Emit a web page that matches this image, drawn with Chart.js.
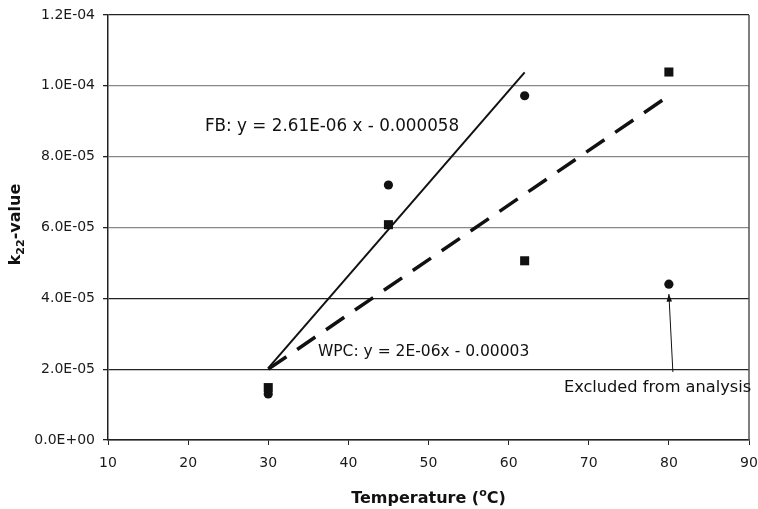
<!DOCTYPE html>
<html>
<head>
<meta charset="utf-8">
<script src="https://cdn.jsdelivr.net/npm/chart.js@4.4.0/dist/chart.umd.min.js"></script>
<style>
  html, body { margin: 0; padding: 0; background: #fff; }
</style>
</head>
<body>
<canvas id="myChart" width="758" height="509"></canvas>
<script>
const temperatures = [30, 45, 62, 80];
const fbValues = [1.3e-5, 7.2e-5, 9.72e-5, 4.4e-5];
const wpcValues = [1.48e-5, 6.08e-5, 5.06e-5, 1.039e-4];

// trend lines (end points)
const fbTrendX = [30, 62];
const fbTrendY = [2.03e-5, 1.038e-4];
const wpcTrendX = [30, 80];
const wpcTrendY = [2.0e-5, 9.72e-5];

const xTicks = [10, 20, 30, 40, 50, 60, 70, 80, 90];
const yTicks = [0, 2e-5, 4e-5, 6e-5, 8e-5, 1e-4, 1.2e-4];

// text notes, anchored in data units
const noteTexts = ['FB: y = 2.61E-06 x - 0.000058', 'WPC: y = 2E-06x - 0.00003', 'Excluded from analysis'];
const noteSizes = [16.8, 15.5, 16.2];
const noteX = [22.1, 36.2, 66.9];
const noteY = [8.84e-5, 2.48e-5, 1.47e-5];
const arrowFrom = [80.5, 1.92e-5];
const arrowTo = [80.0, 4.12e-5];

const FONT = '"DejaVu Sans", sans-serif';

const toPoints = (xs, ys) => xs.map((v, i) => ({ x: v, y: ys[i] }));

const fmtSci = v => {
    const parts = v.toExponential(1).split('e');
    const n = parseInt(parts[1], 10);
    return parts[0] + 'E' + (n < 0 ? '-' : '+') + String(Math.abs(n)).padStart(2, '0');
};

const textPlugin = {
    id: 'texts',
    afterDraw(chart) {
        const ctx = chart.ctx;
        const { x, y } = chart.scales;
        const area = chart.chartArea;
        ctx.save();

        // right frame edge
        ctx.strokeStyle = '#555';
        ctx.lineWidth = 1.5;
        ctx.beginPath();
        ctx.moveTo(area.right, area.top);
        ctx.lineTo(area.right, area.bottom);
        ctx.stroke();

        ctx.fillStyle = '#111';
        ctx.textAlign = 'left';
        ctx.textBaseline = 'middle';
        for (let i = 0; i < noteTexts.length; i++) {
            ctx.font = noteSizes[i] + 'px ' + FONT;
            ctx.fillText(noteTexts[i], x.getPixelForValue(noteX[i]), y.getPixelForValue(noteY[i]));
        }

        // arrow
        const x0 = x.getPixelForValue(arrowFrom[0]), y0 = y.getPixelForValue(arrowFrom[1]);
        const x1 = x.getPixelForValue(arrowTo[0]), y1 = y.getPixelForValue(arrowTo[1]);
        const ang = Math.atan2(y1 - y0, x1 - x0);
        ctx.strokeStyle = '#111';
        ctx.lineWidth = 1;
        ctx.beginPath();
        ctx.moveTo(x0, y0);
        ctx.lineTo(x1, y1);
        ctx.stroke();
        ctx.beginPath();
        ctx.moveTo(x1, y1);
        ctx.lineTo(x1 - 8 * Math.cos(ang - 0.35), y1 - 8 * Math.sin(ang - 0.35));
        ctx.lineTo(x1 - 8 * Math.cos(ang + 0.35), y1 - 8 * Math.sin(ang + 0.35));
        ctx.closePath();
        ctx.fill();

        // x axis title with superscript
        ctx.fillStyle = '#111';
        ctx.textBaseline = 'alphabetic';
        const bold = 'bold 16px ' + FONT;
        const boldSup = 'bold 11px ' + FONT;
        const a = 'Temperature (', s = 'o', b = 'C)';
        ctx.font = bold;
        const wa = ctx.measureText(a).width, wb = ctx.measureText(b).width;
        ctx.font = boldSup;
        const ws = ctx.measureText(s).width;
        let tx = (area.left + area.right) / 2 - (wa + ws + wb) / 2;
        const ty = 503;
        ctx.font = bold;
        ctx.fillText(a, tx, ty);
        ctx.font = boldSup;
        ctx.fillText(s, tx + wa, ty - 7);
        ctx.font = bold;
        ctx.fillText(b, tx + wa + ws, ty);

        // y axis title with subscript
        ctx.translate(20, (area.top + area.bottom) / 2 - 3);
        ctx.rotate(-Math.PI / 2);
        const k = 'k', sub = '22', rest = '-value';
        ctx.font = bold;
        const wk = ctx.measureText(k).width, wr = ctx.measureText(rest).width;
        ctx.font = boldSup;
        const wsub = ctx.measureText(sub).width;
        let sx = -(wk + wsub + wr) / 2;
        ctx.font = bold;
        ctx.fillText(k, sx, 0);
        ctx.font = boldSup;
        ctx.fillText(sub, sx + wk, 4);
        ctx.font = bold;
        ctx.fillText(rest, sx + wk + wsub, 0);
        ctx.restore();
    }
};

const ctx = document.getElementById('myChart').getContext('2d');
const myChart = new Chart(ctx, {
    type: 'scatter',
    data: {
        datasets: [{
            label: 'WPC',
            data: toPoints(temperatures, wpcValues),
            pointStyle: 'rect',
            pointRadius: 6.4,
            backgroundColor: '#111',
            borderColor: '#111',
            borderWidth: 0
        }, {
            label: 'FB',
            data: toPoints(temperatures, fbValues),
            pointStyle: 'circle',
            pointRadius: 4.6,
            backgroundColor: '#111',
            borderColor: '#111',
            borderWidth: 0
        }, {
            label: 'FB trend',
            data: toPoints(fbTrendX, fbTrendY),
            showLine: true,
            pointRadius: 0,
            borderColor: '#111',
            borderWidth: 2
        }, {
            label: 'WPC trend',
            data: toPoints(wpcTrendX, wpcTrendY),
            showLine: true,
            pointRadius: 0,
            borderColor: '#111',
            borderWidth: 3.5,
            borderDash: [22, 13]
        }]
    },
    options: {
        responsive: false,
        animation: false,
        layout: { padding: { top: 15, right: 9, left: 0, bottom: 0 } },
        plugins: {
            legend: { display: false },
            tooltip: { enabled: false }
        },
        scales: {
            x: {
                type: 'linear',
                min: 10,
                max: 90,
                afterBuildTicks: scale => { scale.ticks = xTicks.map(v => ({ value: v })); },
                afterFit: scale => {
                    scale.height = 69;
                    scale.paddingLeft = 0;
                    scale.paddingRight = 0;
                },
                grid: { drawOnChartArea: false, drawTicks: true, tickLength: 5, color: '#222', lineWidth: 1 },
                border: { color: '#222', width: 1.5 },
                ticks: { color: '#1a1a1a', font: { family: FONT, size: 14 }, padding: 10, maxRotation: 0 }
            },
            y: {
                min: 0,
                max: 1.2e-4,
                afterBuildTicks: scale => { scale.ticks = yTicks.map(v => ({ value: v })); },
                afterFit: scale => {
                    scale.width = 108;
                    scale.paddingTop = 0;
                    scale.paddingBottom = 0;
                },
                grid: {
                    drawTicks: true,
                    tickLength: 5,
                    tickColor: '#222',
                    lineWidth: 1.3,
                    color: c => (c.tick && (c.tick.value > 5e-5 && c.tick.value < 1.1e-4)) ? '#888' : '#222'
                },
                border: { color: '#222', width: 1.5 },
                ticks: {
                    color: '#1a1a1a',
                    font: { family: FONT, size: 14 },
                    padding: 8,
                    callback: v => fmtSci(v)
                }
            }
        }
    },
    plugins: [textPlugin]
});
</script>
</body>
</html>
